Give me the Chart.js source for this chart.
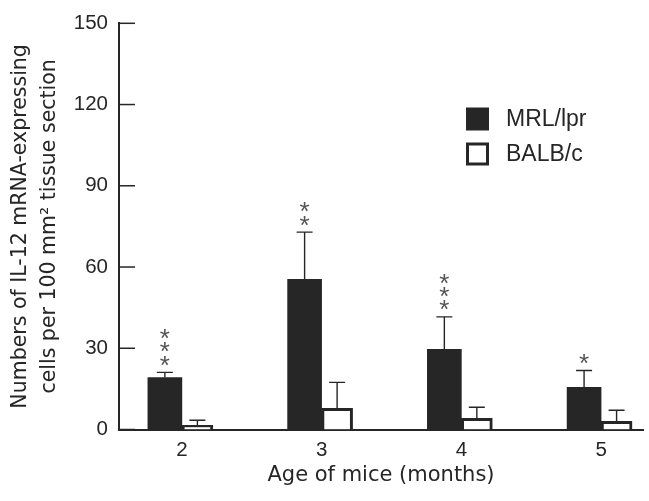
<!DOCTYPE html>
<html>
<head>
<meta charset="utf-8">
<script src="https://cdn.jsdelivr.net/npm/chart.js@4"></script>
<style>
  html, body { margin: 0; padding: 0; background: #fff; }
  #wrap { width: 649px; height: 501px; }
</style>
</head>
<body>
<div id="wrap"><canvas id="il12Chart" width="649" height="501"></canvas></div>
<script>
// --- Data ---
const ageMonths = [2, 3, 4, 5];
const mrlValues = [19.2, 55.5, 29.6, 15.6];
const mrlErrors = [1.9, 17.4, 12.0, 6.2];
const balbValues = [1.5, 7.8, 4.1, 3.0];
const balbErrors = [1.9, 9.6, 4.1, 4.1];
const mrlStars = [3, 2, 3, 1];          // number of asterisks above MRL/lpr bars
const yTickValues = [0, 30, 60, 90, 120, 150];

const INK = '#262626';

// Error bars + asterisks, drawn from the bar elements and the y scale
const errorBarPlugin = {
    id: 'errorBars',
    afterDatasetsDraw(chart) {
        const ctx = chart.ctx;
        const yScale = chart.scales.y;
        ctx.save();
        chart.data.datasets.forEach((ds, i) => {
            const meta = chart.getDatasetMeta(i);
            meta.data.forEach((bar, j) => {
                const top = yScale.getPixelForValue(ds.data[j].y + ds.errors[j]);
                ctx.strokeStyle = INK;
                ctx.lineWidth = 1.4;
                ctx.beginPath();
                ctx.moveTo(bar.x, bar.y);
                ctx.lineTo(bar.x, top);
                ctx.moveTo(bar.x - 8, top);
                ctx.lineTo(bar.x + 8, top);
                ctx.stroke();

                const n = ds.stars ? ds.stars[j] : 0;
                if (n) {
                    ctx.fillStyle = '#555';
                    ctx.font = '26px "Liberation Sans"';
                    ctx.textAlign = 'center';
                    ctx.textBaseline = 'alphabetic';
                    const m = ctx.measureText('*');
                    const shift = (m.actualBoundingBoxAscent - m.actualBoundingBoxDescent) / 2;
                    for (let k = 0; k < n; k++) {
                        const cy = top - 11.5 - k * 13.4;
                        ctx.fillText('*', bar.x, cy + shift);
                    }
                }
            });
        });
        ctx.restore();
    }
};

// Inward tick marks on the y axis
const innerTicksPlugin = {
    id: 'innerTicks',
    afterDraw(chart) {
        const ctx = chart.ctx;
        const yScale = chart.scales.y;
        const left = chart.chartArea.left;
        ctx.save();
        ctx.strokeStyle = INK;
        ctx.lineWidth = 1.5;
        yScale.ticks.forEach(t => {
            const y = yScale.getPixelForValue(t.value);
            ctx.beginPath();
            ctx.moveTo(left, y);
            ctx.lineTo(left + 16, y);
            ctx.stroke();
        });
        ctx.restore();
    }
};

// Legend placed inside the plot, as in the figure
const insideLegendPlugin = {
    id: 'insideLegend',
    afterDraw(chart) {
        const ctx = chart.ctx;
        ctx.save();
        ctx.font = '23px "Liberation Sans"';
        ctx.textBaseline = 'middle';
        ctx.textAlign = 'left';
        chart.data.datasets.forEach((ds, i) => {
            const x = 466, y = 107.5 + i * 35, s = 23;
            if (ds.borderWidth) {
                ctx.fillStyle = '#fff';
                ctx.fillRect(x, y, s, s);
                ctx.strokeStyle = ds.borderColor;
                ctx.lineWidth = 3;
                ctx.strokeRect(x + 1.5, y + 1.5, s - 3, s - 3);
            } else {
                ctx.fillStyle = ds.backgroundColor;
                ctx.fillRect(x, y, s, s);
            }
            ctx.fillStyle = INK;
            ctx.fillText(ds.label, 506, y + s / 2 + 1);
        });
        ctx.restore();
    }
};

new Chart(document.getElementById('il12Chart').getContext('2d'), {
    type: 'bar',
    data: {
        datasets: [{
            label: 'MRL/lpr',
            data: ageMonths.map((a, i) => ({ x: a, y: mrlValues[i] })),
            errors: mrlErrors,
            stars: mrlStars,
            backgroundColor: INK,
            borderWidth: 0,
            barThickness: 34
        }, {
            label: 'BALB/c',
            data: ageMonths.map((a, i) => ({ x: a, y: balbValues[i] })),
            errors: balbErrors,
            backgroundColor: '#fff',
            borderColor: INK,
            borderWidth: 3,
            barThickness: 31
        }]
    },
    options: {
        responsive: false,
        animation: false,
        devicePixelRatio: 1,
        layout: { padding: { top: 22.5, right: 6, left: 0, bottom: 0 } },
        scales: {
            x: {
                type: 'linear',
                offset: false,
                min: 1.55,
                max: 5.30,
                afterBuildTicks: scale => {
                    scale.ticks = ageMonths.map(v => ({ value: v }));
                },
                afterFit: scale => { scale.height = 71.5; },
                grid: { display: false, drawTicks: false },
                border: { display: true, width: 2, color: INK },
                ticks: {
                    color: INK,
                    padding: 8.5,
                    font: { family: 'Liberation Sans', size: 20.5 }
                },
                title: {
                    display: true,
                    text: 'Age of mice (months)',
                    color: INK,
                    font: { family: 'DejaVu Sans', size: 21, lineHeight: 1.2 },
                    padding: { top: 0, bottom: 13 }
                }
            },
            y: {
                min: 0,
                max: 150,
                afterBuildTicks: scale => {
                    scale.ticks = yTickValues.map(v => ({ value: v }));
                },
                afterFit: scale => { scale.width = 119; },
                grid: { display: false, drawTicks: false },
                border: { display: true, width: 2, color: INK },
                ticks: {
                    color: INK,
                    padding: 11,
                    font: { family: 'Liberation Sans', size: 20.5 }
                },
                title: {
                    display: true,
                    text: ['Numbers of IL-12 mRNA-expressing', 'cells per 100 mm\u00B2 tissue section'],
                    color: INK,
                    font: { family: 'DejaVu Sans', size: 20.5, lineHeight: 1.42 },
                    padding: { top: 6, bottom: 0 }
                }
            }
        },
        plugins: {
            legend: { display: false },
            tooltip: { enabled: false }
        }
    },
    plugins: [errorBarPlugin, innerTicksPlugin, insideLegendPlugin]
});
</script>
</body>
</html>
